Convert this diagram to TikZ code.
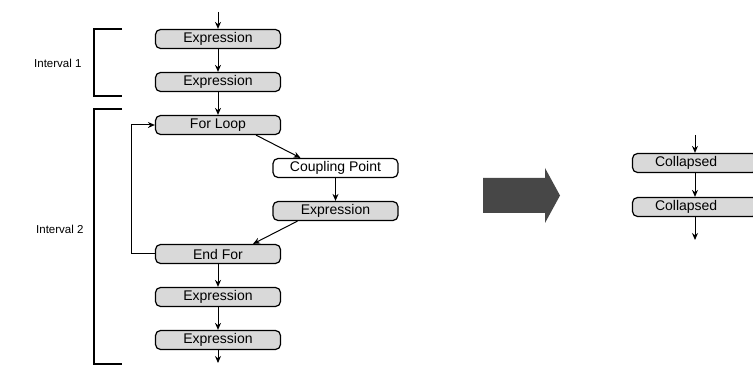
\documentclass[tikz,border=0pt]{standalone}
\usepackage{fontspec}
\setmainfont{Liberation Sans}
\usetikzlibrary{arrows.meta,positioning}

\begin{document}
\begin{tikzpicture}[
  x=1pt, y=-1pt,
  font=\fontsize{14}{15}\selectfont,
  block/.style={rectangle, rounded corners=5pt, draw=black, line width=1.2pt, fill=gray!30, minimum width=125pt, minimum height=19pt, inner sep=0pt},
  cpblock/.style={block, fill=white},
  flow/.style={-{Stealth[length=7pt,width=6pt]}, line width=1pt},
  brace/.style={draw=black, line width=1.2pt},
  ilabel/.style={font=\fontsize{11.5}{12}\selectfont, anchor=east}
]
\useasboundingbox (0,0) rectangle (753,374);

\def\cx{218}
\def\rx{335.5}
\def\dy{43}

% left: original flow
\coordinate (in) at (\cx,12);
\node[block] (e1) at (\cx,39) {Expression};
\node[block] (e2) at (\cx,39+\dy) {Expression};
\node[block] (forl) at (\cx,39+2*\dy) {For Loop};
\node[cpblock] (cp) at (\rx,39+3*\dy) {Coupling Point};
\node[block] (ex) at (\rx,39+4*\dy) {Expression};
\node[block] (endf) at (\cx,39+5*\dy) {End For};
\node[block] (e3) at (\cx,39+6*\dy) {Expression};
\node[block] (e4) at (\cx,39+7*\dy) {Expression};
\coordinate (out) at (\cx,363);

\draw[flow] (in) -- (e1);
\draw[flow] (e1) -- (e2);
\draw[flow] (e2) -- (forl);
\draw[flow] ([xshift=38pt]forl.south) -- ([xshift=-35pt]cp.north);
\draw[flow] (cp) -- (ex);
\draw[flow] ([xshift=-38pt]ex.south) -- ([xshift=35pt]endf.north);
\draw[flow] (endf.west) -- ++(-23,0) |- (forl.west);
\draw[flow] (endf) -- (e3);
\draw[flow] (e3) -- (e4);
\draw[flow] (e4) -- (out);

% intervals
\draw[brace] (122,29) -- (94,29) -- (94,96) -- (122,96);
\draw[brace] (122,109) -- (94,109) -- (94,364) -- (122,364);
\node[ilabel] (int1) at (85,63) {Interval 1};
\node[ilabel] (int2) at (87,229) {Interval 2};

% big arrow
\fill[black!72] (483,178) -- (545,178) -- (545,168) -- (560,195.5)
  -- (545,223) -- (545,213) -- (483,213) -- cycle;

% right: collapsed flow
\coordinate (rin) at (695,135);
\node[block, text width=80pt, align=left, inner xsep=20pt] (c1) at (695,163) {Collapsed};
\node[block, text width=80pt, align=left, inner xsep=20pt] (c2) at (695,207) {Collapsed};
\coordinate (rout) at (695,240);

\draw[flow] (rin) -- (c1);
\draw[flow] (c1) -- (c2);
\draw[flow] (c2) -- (rout);

\end{tikzpicture}
\end{document}
